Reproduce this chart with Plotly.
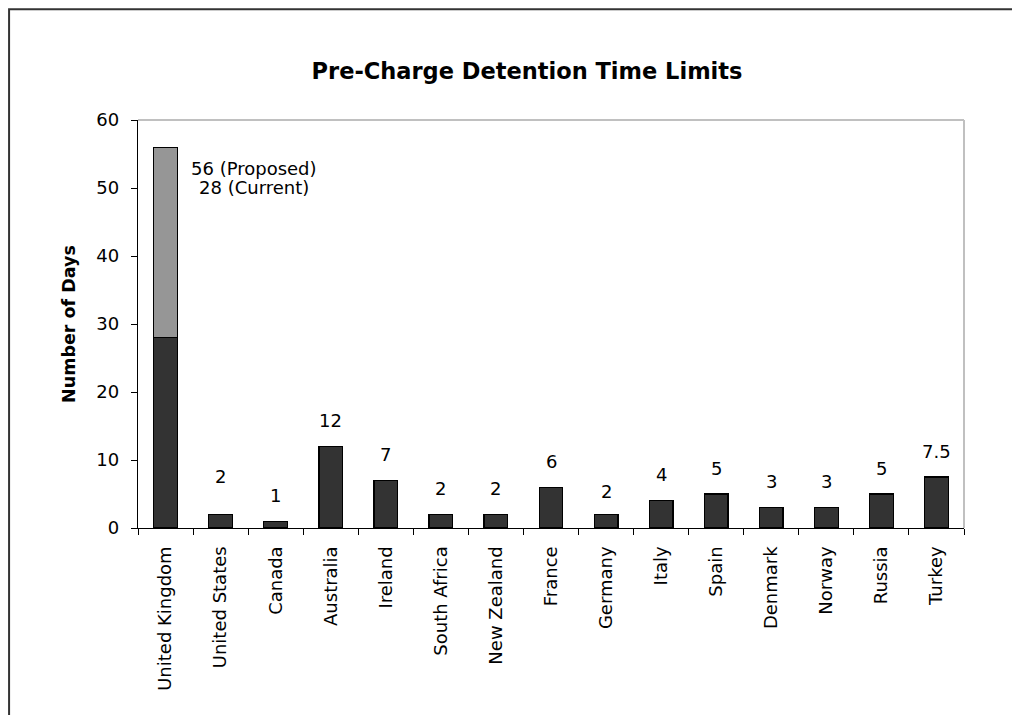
import plotly.graph_objects as go

countries = ["United Kingdom", "United States", "Canada", "Australia", "Ireland",
             "South Africa", "New Zealand", "France", "Germany", "Italy", "Spain",
             "Denmark", "Norway", "Russia", "Turkey"]
current_days = [28, 2, 1, 12, 7, 2, 2, 6, 2, 4, 5, 3, 3, 5, 7.5]
proposed_days = [56, None, None, None, None, None, None, None, None, None, None, None, None, None, None]
value_labels = ["", "2", "1", "12", "7", "2", "2", "6", "2", "4", "5", "3", "3", "5", "7.5"]
uk_label_lines = ["56 (Proposed)", "28 (Current)"]
y_ticks = [0, 10, 20, 30, 40, 50, 60]

FONT = "DejaVu Sans, Arial, sans-serif"
DARK = "#333333"
GRAY = "#969696"

# figure sits 8px inside the page (default body margin)
W, H = 1012, 707
L, R, T, B = 129.5, 56, 111.5, 187
PW, PH = W - L - R, H - T - B

extra = [(p - c) if p is not None else 0 for p, c in zip(proposed_days, current_days)]

fig = go.Figure()
fig.add_trace(go.Bar(x=countries, y=current_days, marker=dict(color=DARK, line=dict(color="black", width=1.3)),
                     name="Current", hoverinfo="x+y"))
fig.add_trace(go.Bar(x=countries, y=extra, marker=dict(color=GRAY, line=dict(color="black", width=1.3)),
                     name="Proposed", hoverinfo="x+y"))

label_shift = {"United States": 38, "Germany": 23}
for c, v, t in zip(countries, current_days, value_labels):
    if not t:
        continue
    fig.add_annotation(x=c, y=v, text=t, showarrow=False, yanchor="middle",
                       yshift=label_shift.get(c, 26), font=dict(family=FONT, size=18, color="black"))

uk_top = max(p for p in proposed_days if p is not None)
for i, line in enumerate(uk_label_lines):
    fig.add_annotation(x=countries[0], y=uk_top, text=line, showarrow=False, xanchor="center",
                       yanchor="middle", xshift=88, yshift=-21 - 19 * i,
                       font=dict(family=FONT, size=18, color="black"))

# plot area top/right light border
fig.add_shape(type="line", xref="paper", yref="paper", x0=0, x1=1, y0=1, y1=1,
              line=dict(color="#c0c0c0", width=2))
fig.add_shape(type="line", xref="paper", yref="paper", x0=1, x1=1, y0=0, y1=1,
              line=dict(color="#c0c0c0", width=2))
# outer chart frame
fx0 = (0.5 - L) / PW
fy1 = 1 + (T - 0.5) / PH
fig.add_shape(type="rect", xref="paper", yref="paper", x0=fx0, x1=1.3, y0=-0.6, y1=fy1,
              line=dict(color="#333333", width=2), fillcolor="rgba(0,0,0,0)", layer="below")

fig.update_layout(
    width=W, height=H,
    margin=dict(l=L, r=R, t=T, b=B, pad=0),
    paper_bgcolor="white", plot_bgcolor="white",
    barmode="stack", bargap=0.57, showlegend=False,
    title=dict(text="<b>Pre-Charge Detention Time Limits</b>", x=(527 - 8) / W, xanchor="center",
               y=1 - (71 - 8) / H, yanchor="middle", font=dict(family=FONT, size=22.5, color="black")),
    font=dict(family=FONT, color="black"),
)
fig.update_xaxes(showline=True, linecolor="black", linewidth=1.3, ticks="outside", tickson="boundaries",
                 ticklen=6, tickcolor="black", tickwidth=1.3, tickangle=-90, showgrid=False,
                 tickfont=dict(family=FONT, size=18, color="black"), ticklabelstandoff=10)
fig.update_yaxes(range=[0, 60], tickvals=y_ticks, showline=True, linecolor="black", linewidth=1.3,
                 ticks="outside", ticklen=6, tickcolor="black", tickwidth=1.3, showgrid=False, zeroline=False,
                 tickfont=dict(family=FONT, size=18, color="black"), ticklabelstandoff=8,
                 title=dict(text="<b>Number of Days</b>", font=dict(family=FONT, size=17.5, color="black"),
                            standoff=16))

fig.write_html("out.html")
